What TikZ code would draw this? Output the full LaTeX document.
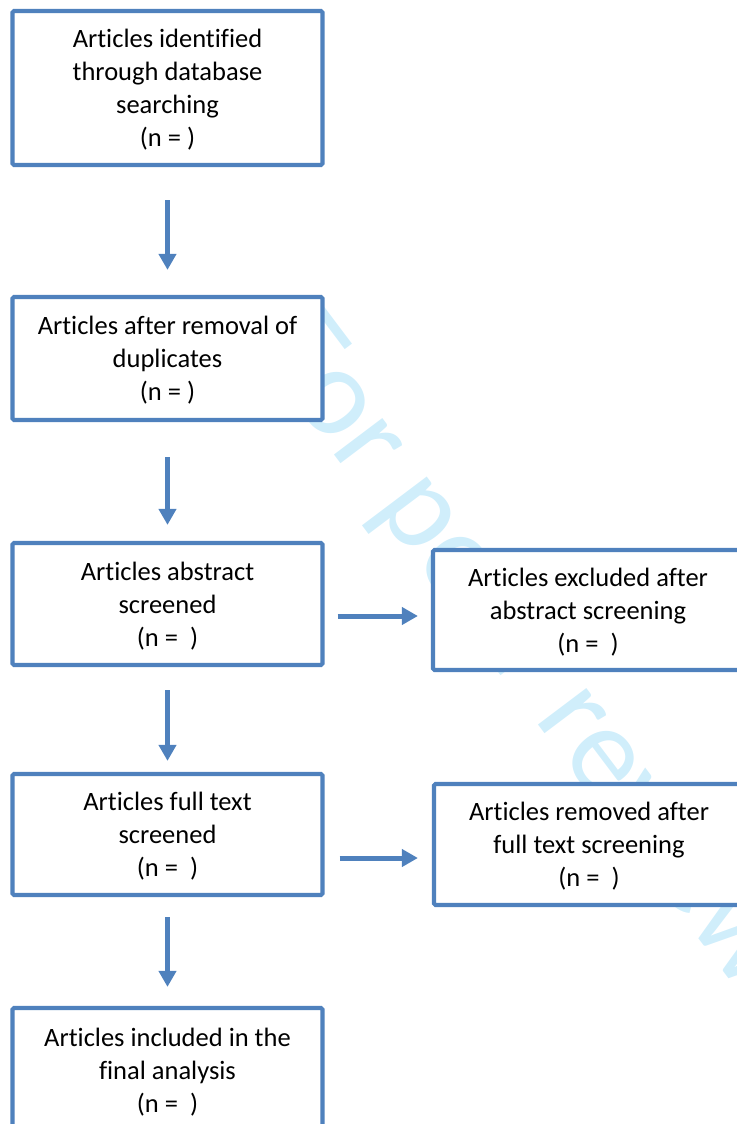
\documentclass[tikz,border=0pt]{standalone}
\usepackage{fontspec}
\setmainfont{Carlito}[Ligatures={NoCommon,NoRare,NoContextual}]
\usetikzlibrary{arrows.meta}

\definecolor{boxblue}{RGB}{79,129,189}
\definecolor{markcyan}{RGB}{208,238,251}

\tikzset{
    stage/.style={draw=boxblue, line width=4.2pt, fill=white, rounded corners=1.5pt,
        align=center, inner sep=0pt, minimum width=310pt, text depth=-3pt,
        font=\fontsize{26.5}{33}\selectfont},
    flow/.style={draw=boxblue, line width=5pt,
        -{Triangle[width=17pt,length=16pt]}}
}

\begin{document}
\begin{tikzpicture}[x=1pt,y=-1pt]
    \useasboundingbox (0,0) rectangle (736,1124);

    % Watermark
    \node[text=markcyan, rotate=-53, anchor=base, inner sep=0pt,
          font=\fontsize{127}{127}\selectfont] (mark) at (498,672) {For peer review};

    % Main column
    \node[stage, minimum height=154pt] (s1) at (167.5,88)
        {Articles identified\\through database\\searching\\(n = )};
    \node[stage, minimum height=123pt] (s2) at (167.5,358.5)
        {Articles after removal of\\duplicates\\(n = )};
    \node[stage, minimum height=122pt] (s3) at (167.5,604)
        {Articles abstract\\screened\\(n = \ )};
    \node[stage, minimum height=121pt] (s4) at (167.5,834.5)
        {Articles full text\\screened\\(n = \ )};
    \node[stage, minimum height=124pt] (s5) at (167.5,1070)
        {Articles included in the\\final analysis\\(n = \ )};

    % Exclusions
    \node[stage, minimum height=120pt] (exA) at (588,610)
        {Articles excluded after\\abstract screening\\(n = \ )};
    \node[stage, minimum height=121pt] (exB) at (589,844.5)
        {Articles removed after\\full text screening\\(n = \ )};

    % Arrows
    \draw[flow, shorten <=33pt, shorten >=25pt] (s1.south) -- (s2.north);
    \draw[flow, shorten <=35pt, shorten >=16pt] (s2.south) -- (s3.north);
    \draw[flow, shorten <=23pt, shorten >=11pt] (s3.south) -- (s4.north);
    \draw[flow, shorten <=20pt, shorten >=19pt] (s4.south) -- (s5.north);
    \draw[flow, shorten <=13pt, shorten >=13pt] ([yshift=-12pt]s3.east) -- ([yshift=-6pt]exA.west);
    \draw[flow, shorten <=15pt, shorten >=14pt] ([yshift=-23.5pt]s4.east) -- ([yshift=-13.5pt]exB.west);

\end{tikzpicture}
\end{document}
